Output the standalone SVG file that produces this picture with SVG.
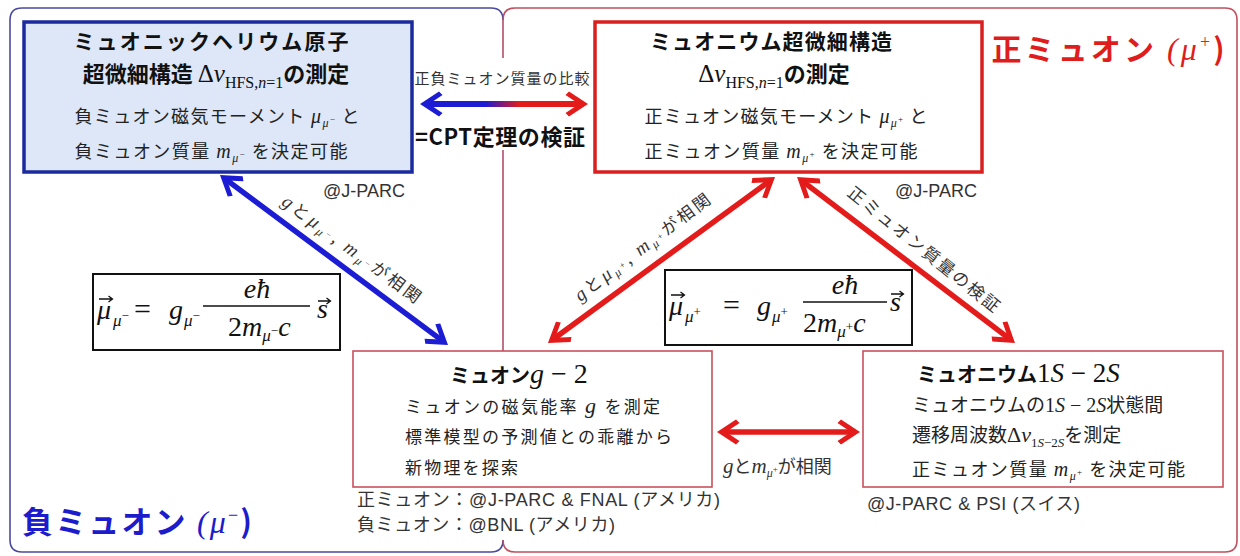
<svg xmlns="http://www.w3.org/2000/svg" width="1240" height="556" viewBox="0 0 1240 556">
<style>
.jp{font-family:"Noto Sans CJK JP","Liberation Sans",sans-serif;fill:#222}
.b{font-weight:bold;fill:#111}
.m{font-family:"Liberation Serif",serif;font-style:italic;font-weight:normal}
.r{font-family:"Liberation Serif",serif;font-style:normal;font-weight:normal}
.lat{font-family:"Liberation Sans","Noto Sans CJK JP",sans-serif;fill:#333}
.lbl{font-family:"Noto Sans CJK JP","Liberation Sans",sans-serif;fill:#333}
.fm{font-family:"Liberation Serif",serif;fill:#111}
.fbox{fill:#fff;stroke:#111;stroke-width:2}
.nbox{fill:#fff;stroke:#c9505c;stroke-width:1.6}
.vec{fill:none;stroke:#111;stroke-width:1.3}
</style>
<defs>
<marker id="ahR" viewBox="0 0 24 26" refX="18" refY="13" markerWidth="24" markerHeight="26" markerUnits="userSpaceOnUse" orient="auto-start-reverse"><path d="M24,13 L5,0.5 L1.5,4 L15,13 L1.5,22 L5,25.5 Z" fill="#e41b1b"/></marker>
<marker id="ahB" viewBox="0 0 24 26" refX="18" refY="13" markerWidth="24" markerHeight="26" markerUnits="userSpaceOnUse" orient="auto-start-reverse"><path d="M24,13 L5,0.5 L1.5,4 L15,13 L1.5,22 L5,25.5 Z" fill="#1c1cd4"/></marker>
<linearGradient id="grad" gradientUnits="userSpaceOnUse" x1="426" y1="0" x2="582" y2="0">
<stop offset="0.38" stop-color="#1c1cd4"/><stop offset="0.6" stop-color="#e41b1b"/>
</linearGradient>
</defs>
<rect width="1240" height="556" fill="#fff"/>

<g id="frames" fill="none" stroke-width="1.6">
<path d="M503,20 Q503,8 491,8 H22 Q10,8 10,20 V540 Q10,552 22,552 H491 Q503,552 503,540" stroke="#4a4a9e"/>
<path d="M503,20 Q503,8 515,8 H1225 Q1237,8 1237,20 V540 Q1237,552 1225,552 H515 Q503,552 503,540" stroke="#c0505e"/>
<path d="M503,20 V58 M503,150 V351" stroke="#b0506a"/>
</g>

<g id="group-labels">
<text class="jp b" x="1108" y="60" font-size="30" text-anchor="middle" textLength="233" style="fill:#e01d1d">正ミュオン <tspan class="m" font-size="32">(μ</tspan><tspan class="r" font-size="18" dy="-12">+</tspan><tspan font-size="30" dy="12">)</tspan></text>
<text class="jp b" x="22" y="533" font-size="31" textLength="230" style="fill:#1c1ccc">負ミュオン <tspan class="m" font-size="32">(μ</tspan><tspan class="r" font-size="18" dy="-12">−</tspan><tspan font-size="31" dy="12">)</tspan></text>
</g>

<g id="node-muonic-helium">
<rect x="24" y="22" width="388" height="150" fill="#dde7f7" stroke="#1b2a9c" stroke-width="3.5"/>
<text class="jp b" x="211" y="49" font-size="21" text-anchor="middle" textLength="275">ミュオニックヘリウム原子</text>
<text class="jp b" x="216" y="82" font-size="22" text-anchor="middle">超微細構造 <tspan class="r" font-size="25">Δ</tspan><tspan class="m" font-size="25">ν</tspan><tspan class="r" font-size="16" dy="6">HFS,</tspan><tspan class="m" font-size="16">n</tspan><tspan class="r" font-size="16">=1</tspan><tspan dy="-6">の測定</tspan></text>
<text class="jp" x="217" y="123" font-size="18" text-anchor="middle" textLength="285">負ミュオン磁気モーメント <tspan class="m" font-size="20">μ</tspan><tspan class="m" font-size="12" dy="4">μ</tspan><tspan class="r" font-size="9" dy="-5">−</tspan><tspan dy="1"> と</tspan></text>
<text class="jp" x="211" y="158" font-size="18" text-anchor="middle" textLength="273">負ミュオン質量 <tspan class="m" font-size="20">m</tspan><tspan class="m" font-size="12" dy="4">μ</tspan><tspan class="r" font-size="9" dy="-5">−</tspan><tspan dy="1"> を決定可能</tspan></text>
<text class="lat" x="323" y="197" font-size="18">@J-PARC</text>
</g>

<g id="node-muonium-hfs">
<rect x="595" y="22" width="387" height="150" fill="#fff" stroke="#d91f1f" stroke-width="3.5"/>
<text class="jp b" x="771" y="49" font-size="21" text-anchor="middle" textLength="242">ミュオニウム超微細構造</text>
<text class="jp b" x="774" y="82" font-size="22" text-anchor="middle"><tspan class="r" font-size="25">Δ</tspan><tspan class="m" font-size="25">ν</tspan><tspan class="r" font-size="16" dy="6">HFS,</tspan><tspan class="m" font-size="16">n</tspan><tspan class="r" font-size="16">=1</tspan><tspan dy="-6">の測定</tspan></text>
<text class="jp" x="786" y="123" font-size="18" text-anchor="middle" textLength="283">正ミュオン磁気モーメント <tspan class="m" font-size="20">μ</tspan><tspan class="m" font-size="12" dy="4">μ</tspan><tspan class="r" font-size="9" dy="-5">+</tspan><tspan dy="1"> と</tspan></text>
<text class="jp" x="781" y="158" font-size="18" text-anchor="middle" textLength="273">正ミュオン質量 <tspan class="m" font-size="20">m</tspan><tspan class="m" font-size="12" dy="4">μ</tspan><tspan class="r" font-size="9" dy="-5">+</tspan><tspan dy="1"> を決定可能</tspan></text>
<text class="lat" x="895" y="197" font-size="18">@J-PARC</text>
</g>

<g id="node-formula-minus">
<rect class="fbox" x="93" y="274" width="247" height="76"/>
<text class="fm m" x="97" y="319" font-size="28">μ</text>
<path class="vec" d="M99,299 H112 M108.5,296 L112.5,299 L108.5,302"/>
<text class="fm m" x="113" y="326" font-size="17">μ<tspan class="r" font-size="13" dy="-6">−</tspan></text>
<text class="fm r" x="134" y="319" font-size="30" textLength="28">=</text>
<text class="fm m" x="169" y="319" font-size="28">g</text>
<text class="fm m" x="184" y="326" font-size="17">μ<tspan class="r" font-size="13" dy="-6">−</tspan></text>
<line x1="203" y1="306" x2="310" y2="306" stroke="#111" stroke-width="1.3"/>
<text class="fm m" x="257" y="298" font-size="28" text-anchor="middle">eħ</text>
<text class="fm r" x="228" y="336" font-size="28">2<tspan class="m">m</tspan><tspan class="m" font-size="17" dy="5">μ</tspan><tspan class="r" font-size="13" dy="-6">−</tspan><tspan class="m" font-size="28" dy="1">c</tspan></text>
<text class="fm m" x="317" y="318" font-size="28">s</text>
<path class="vec" d="M318,301 H330 M326.5,298 L330.5,301 L326.5,304"/>
</g>

<g id="node-formula-plus">
<rect class="fbox" x="665" y="270" width="247" height="75"/>
<text class="fm m" x="669" y="315" font-size="28">μ</text>
<path class="vec" d="M671,295 H684 M680.5,292 L684.5,295 L680.5,298"/>
<text class="fm m" x="685" y="322" font-size="17">μ<tspan class="r" font-size="13" dy="-6">+</tspan></text>
<text class="fm r" x="723" y="315" font-size="30" textLength="28">=</text>
<text class="fm m" x="757" y="315" font-size="28">g</text>
<text class="fm m" x="772" y="322" font-size="17">μ<tspan class="r" font-size="13" dy="-6">+</tspan></text>
<line x1="803" y1="302" x2="887" y2="302" stroke="#111" stroke-width="1.3"/>
<text class="fm m" x="845" y="294" font-size="28" text-anchor="middle">eħ</text>
<text class="fm r" x="803" y="332" font-size="28">2<tspan class="m">m</tspan><tspan class="m" font-size="17" dy="5">μ</tspan><tspan class="r" font-size="13" dy="-6">+</tspan><tspan class="m" font-size="28" dy="1">c</tspan></text>
<text class="fm m" x="890" y="311" font-size="28">s</text>
<path class="vec" d="M891,294 H903 M899.5,291 L903.5,294 L899.5,297"/>
</g>

<g id="node-g2">
<rect class="nbox" x="353" y="351" width="359" height="136"/>
<text class="jp b" x="450" y="383" font-size="20">ミュオン<tspan class="m" font-size="28">g</tspan><tspan class="r" font-size="28"> − 2</tspan></text>
<text class="jp" x="405" y="413" font-size="17" textLength="255">ミュオンの磁気能率 <tspan class="m" font-size="22">g</tspan> を測定</text>
<text class="jp" x="405" y="443" font-size="17" textLength="267">標準模型の予測値との乖離から</text>
<text class="jp" x="405" y="474" font-size="17" textLength="113">新物理を探索</text>
<text class="lat" x="357" y="506" font-size="18" textLength="363">正ミュオン：@J-PARC &amp; FNAL (アメリカ)</text>
<text class="lat" x="357" y="531" font-size="18" textLength="258">負ミュオン：@BNL (アメリカ)</text>
</g>

<g id="node-muonium-1s2s">
<rect class="nbox" x="863" y="351" width="360" height="136"/>
<text class="jp b" x="917" y="382" font-size="20">ミュオニウム<tspan class="r" font-size="27">1</tspan><tspan class="m" font-size="27">S</tspan><tspan class="r" font-size="27"> − 2</tspan><tspan class="m" font-size="27">S</tspan></text>
<text class="jp" x="912" y="412" font-size="19">ミュオニウムの<tspan class="r" font-size="20">1</tspan><tspan class="m" font-size="20">S</tspan><tspan class="r" font-size="20"> − 2</tspan><tspan class="m" font-size="20">S</tspan>状態間</text>
<text class="jp" x="912" y="442" font-size="19">遷移周波数<tspan class="r" font-size="22">Δ</tspan><tspan class="m" font-size="22">ν</tspan><tspan class="r" font-size="13" dy="5">1</tspan><tspan class="m" font-size="13">S</tspan><tspan class="r" font-size="13">−2</tspan><tspan class="m" font-size="13">S</tspan><tspan dy="-5">を測定</tspan></text>
<text class="jp" x="912" y="476" font-size="18" textLength="273">正ミュオン質量 <tspan class="m" font-size="20">m</tspan><tspan class="m" font-size="12" dy="4">μ</tspan><tspan class="r" font-size="9" dy="-5">+</tspan><tspan dy="1"> を決定可能</tspan></text>
<text class="lat" x="867" y="510" font-size="18" textLength="213">@J-PARC &amp; PSI (スイス)</text>
</g>

<g id="connectors" fill="none">
<line x1="426" y1="104" x2="582" y2="104" stroke="url(#grad)" stroke-width="6" marker-start="url(#ahB)" marker-end="url(#ahR)"/>
<line x1="224.8" y1="178.6" x2="443.2" y2="341.4" stroke="#1c1cd4" stroke-width="5.5" marker-start="url(#ahB)" marker-end="url(#ahB)"/>
<line x1="770.2" y1="180.5" x2="552.8" y2="339.5" stroke="#e41b1b" stroke-width="5.5" marker-start="url(#ahR)" marker-end="url(#ahR)"/>
<line x1="801.8" y1="180.6" x2="1010.2" y2="339.4" stroke="#e41b1b" stroke-width="5.5" marker-start="url(#ahR)" marker-end="url(#ahR)"/>
<line x1="723" y1="432" x2="854" y2="432" stroke="#e41b1b" stroke-width="5.5" marker-start="url(#ahR)" marker-end="url(#ahR)"/>
</g>

<g id="connector-labels">
<text class="lbl" x="502" y="84" font-size="15" text-anchor="middle" textLength="175">正負ミュオン質量の比較</text>
<text class="jp b" x="500" y="145" font-size="22" text-anchor="middle" textLength="170">=CPT定理の検証</text>
<text class="lbl" x="348" y="254" font-size="17" text-anchor="middle" textLength="168" transform="rotate(36.5 348 254)"><tspan class="m" font-size="19">g</tspan>と<tspan class="m" font-size="19">μ</tspan><tspan class="m" font-size="12" dy="3">μ</tspan><tspan class="r" font-size="9" dy="-4">−</tspan><tspan dy="1">, </tspan><tspan class="m" font-size="19">m</tspan><tspan class="m" font-size="12" dy="3">μ</tspan><tspan class="r" font-size="9" dy="-4">−</tspan><tspan dy="1">が相関</tspan></text>
<text class="lbl" x="646" y="252" font-size="17" text-anchor="middle" textLength="165" transform="rotate(-37.2 646 252)"><tspan class="m" font-size="19">g</tspan>と<tspan class="m" font-size="19">μ</tspan><tspan class="m" font-size="12" dy="3">μ</tspan><tspan class="r" font-size="9" dy="-4">+</tspan><tspan dy="1">, </tspan><tspan class="m" font-size="19">m</tspan><tspan class="m" font-size="12" dy="3">μ</tspan><tspan class="r" font-size="9" dy="-4">+</tspan><tspan dy="1">が相関</tspan></text>
<text class="lbl" x="920" y="254" font-size="17" text-anchor="middle" textLength="189" transform="rotate(38.8 920 254)">正ミュオン質量の検証</text>
<text class="lbl" x="723" y="473" font-size="18"><tspan class="m" font-size="21">g</tspan>と<tspan class="m" font-size="21">m</tspan><tspan class="m" font-size="12" dy="4">μ</tspan><tspan class="r" font-size="9" dy="-5">+</tspan><tspan dy="1">が相関</tspan></text>
</g>
</svg>
